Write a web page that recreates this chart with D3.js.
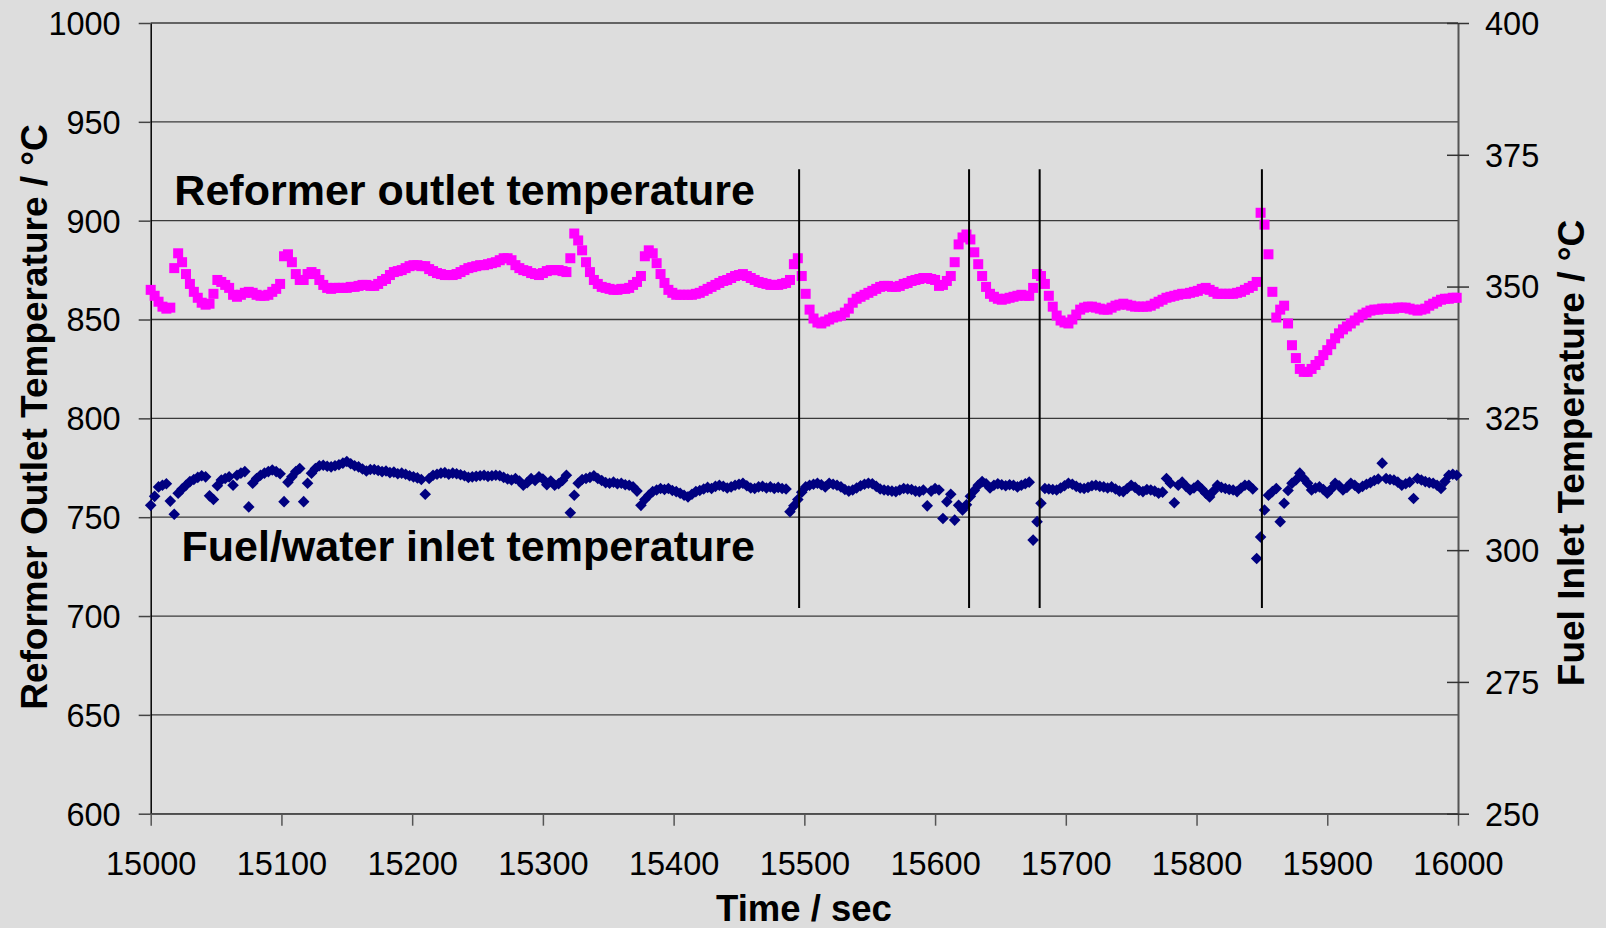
<!DOCTYPE html>
<html>
<head>
<meta charset="utf-8">
<script src="https://cdn.jsdelivr.net/npm/d3@7"></script>
<style>
  body { margin: 0; background: #dddddd; }
  svg { display: block; font-family: "Liberation Sans", Arial, sans-serif; }
</style>
</head>
<body>
<div id="chart"></div>
<script>
// Logged samples, one every 3 s starting at 15000 s
var sampleStart = 15000;
var sampleStep = 3;

// Reformer outlet temperature (left axis, °C)
var outletTemp = [
  865, 862, 859, 856.5, 855.5, 856, 876, 883.5, 879, 873,
  868, 864, 861, 858.5, 857.5, 858, 863, 870, 869, 867.5,
  866, 862.5, 861.5, 862.5, 863.5, 864, 863.5, 862.5, 862, 862,
  862.5, 864, 865.5, 868, 882, 883, 879, 873, 870, 870,
  873, 874, 873, 870, 867.5, 866, 865.5, 866, 866, 866,
  866, 866.5, 866.5, 867, 867.5, 867.5, 867, 867, 868, 869.5,
  870.5, 872.5, 874, 874.5, 875, 876, 877, 877.5, 877.5, 877,
  877, 875.5, 874.5, 873.5, 873, 872.5, 872.5, 872.5, 873, 874,
  875, 876, 876.5, 877, 877.5, 877.5, 878, 878.5, 879, 880,
  881, 881, 880, 877.5, 876, 875, 874.5, 873.5, 873, 872.5,
  873.5, 874.5, 875, 875, 875, 874.5, 874, 881, 893.5, 890,
  885, 879, 874, 870, 868, 866.5, 866, 865.5, 865, 865,
  865.5, 865.5, 866, 867.5, 869, 872, 882, 885, 883.5, 878.5,
  873, 868.5, 865, 863.5, 862.5, 862.5, 862.5, 862.5, 862.5, 863,
  863.5, 864.5, 865.5, 866.5, 867.5, 868.5, 869.5, 870, 871, 872,
  872.5, 873, 872, 871, 870, 869, 868.5, 868, 867.5, 867.5,
  867.5, 868, 868.5, 870, 878, 881, 872, 863, 855, 850.5,
  848.5, 848, 849, 850, 851, 851.5, 852, 853.5, 855.5, 858.5,
  860.5, 861.5, 862.5, 863.5, 864.5, 865.5, 866.5, 867, 867, 866.5,
  866.5, 867, 868, 868.5, 869.5, 870, 870.5, 871, 871, 870.5,
  870, 867, 867.5, 869.5, 872, 879, 888, 891.5, 893, 890.5,
  884, 878, 872, 866.5, 863, 861.5, 860.5, 860, 860.5, 861,
  861.5, 862, 862.5, 862, 862, 866, 873, 872, 868, 862,
  856.5, 852, 849.5, 848.5, 848, 850, 852.5, 855, 856, 856.5,
  856.5, 856, 855.5, 855, 855, 856, 857, 857.5, 858, 857.5,
  857, 856.5, 856.5, 856.5, 856.5, 857, 858, 859, 860, 861,
  861.5, 862, 862.5, 863, 863, 863.5, 864, 864.5, 865.5, 866,
  865, 864, 863, 863, 863, 863, 863, 863.5, 864, 865,
  866, 867, 869, 904, 898, 883, 864, 851, 855, 857,
  848, 837, 830.5, 825, 823.5, 823.5, 825, 827, 829, 832,
  834.5, 837.5, 840.5, 843, 845, 846.5, 848, 849.5, 851, 852.5,
  853.5, 854.5, 855, 855, 855.5, 855.5, 855.5, 855.5, 856, 856,
  856, 855.5, 855, 854.5, 855, 855.5, 857, 858, 859, 860,
  860.5, 860.5, 861, 861
];

// Fuel/water inlet temperature (right axis, °C)
var inletTemp = [
  308.5, 310.2, 312, 312.3, 312.6, 309.3, 306.8, 310.8, 311.6, 312.3,
  313, 313.4, 313.8, 314.1, 313.9, 310.3, 309.6, 312.2, 313.3, 313.6,
  313.9, 312.3, 314.2, 314.6, 314.9, 308.2, 312.7, 313.6, 314.2, 314.6,
  314.9, 315.2, 314.9, 314.5, 309.2, 312.9, 313.9, 314.9, 315.5, 309.2,
  312.7, 314.6, 315.5, 316, 316.1, 315.9, 315.8, 316, 316.2, 316.5,
  316.8, 316.4, 316, 315.8, 315.4, 315, 315.3, 315.3, 315.1, 314.9,
  315, 314.7, 314.8, 314.5, 314.6, 314.4, 314.1, 313.9, 313.7, 313.4,
  310.6, 313.6, 314.2, 314.4, 314.6, 314.7, 314.4, 314.6, 314.5, 314.3,
  314.1, 313.8, 313.9, 314, 314.1, 314.2, 314, 314.1, 314.2, 314.1,
  313.8, 313.5, 313.3, 313.6, 313.1, 312.3, 312.8, 313.6, 313.2, 313.9,
  313.5, 312.4, 313.1, 312.3, 312.6, 313.2, 314.2, 307.1, 310.4, 312.7,
  313.4, 313.6, 313.8, 314.1, 313.6, 313.2, 312.8, 312.7, 312.9, 312.6,
  312.7, 312.4, 312.3, 312, 311.2, 308.5, 309.6, 310.4, 311.1, 311.4,
  311.7, 311.5, 311.7, 311.3, 311.1, 310.8, 310.4, 310.1, 310.6, 311.1,
  311.3, 311.6, 311.9, 311.7, 312.1, 312.3, 312.1, 311.8, 312, 312.3,
  312.5, 312.7, 312.2, 311.8, 311.7, 312, 312.1, 311.8, 312, 311.7,
  311.9, 311.7, 311.6, 307.3, 308.4, 309.6, 311, 312, 312.3, 312.5,
  312.7, 312.4, 312, 312.7, 312.5, 312.3, 312, 311.5, 311.2, 311.4,
  311.8, 312.2, 312.5, 312.7, 312.6, 312.1, 311.6, 311.4, 311.3, 311.2,
  311.1, 311.4, 311.7, 311.6, 311.5, 311.2, 311.1, 311.4, 308.4, 311.2,
  311.7, 311.4, 306, 309.2, 310.6, 305.7, 308.5, 307.6, 308.6, 310.2,
  311.3, 312.3, 313, 312.6, 311.8, 312.3, 312.6, 312.4, 312.2, 312.4,
  312.3, 312, 312.3, 312.6, 312.9, 301.9, 305.4, 308.9, 311.7, 311.6,
  311.5, 311.4, 311.8, 312.2, 312.7, 312.5, 312.1, 311.8, 311.7, 311.9,
  312.2, 312.3, 312.1, 312, 311.8, 312, 311.6, 311.2, 311.1, 311.7,
  312.3, 311.9, 311.3, 311.1, 311.5, 311.4, 311.2, 310.8, 311, 313.6,
  312.7, 309, 312.3, 312.9, 312.1, 311.4, 311.8, 312.3, 311.6, 310.8,
  310.1, 311.2, 312.3, 311.9, 311.7, 311.5, 311.4, 311.1, 311.8, 312.3,
  312.3, 311.6, 298.4, 302.5, 307.6, 310.4, 311.1, 311.7, 305.4, 308.9,
  311.3, 312.7, 313.3, 314.6, 313.6, 312.7, 311.4, 311.8, 312, 311.5,
  310.8, 311.6, 312.7, 312.2, 311.4, 311.9, 312.7, 312.3, 311.7, 312.1,
  312.5, 312.8, 313.2, 313.5, 316.5, 313.6, 313.4, 313.3, 312.9, 312.3,
  312.6, 312.9, 309.8, 313.6, 313.3, 313, 312.8, 312.7, 312.3, 311.7,
  313, 314.2, 314.4, 314.2
];

// Event markers (s) and their vertical extent on the left axis
var eventTimes = [15496, 15626, 15680, 15850];
var eventRange = [704, 926];

var xTicks = [15000, 15100, 15200, 15300, 15400, 15500, 15600, 15700, 15800, 15900, 16000];
var leftTicks = [600, 650, 700, 750, 800, 850, 900, 950, 1000];
var rightTicks = [250, 275, 300, 325, 350, 375, 400];

var width = 1606, height = 928;
var plot = {left: 150.7, right: 1458, top: 23, bottom: 813.7};

var svg = d3.select('#chart').append('svg')
  .attr('width', width)
  .attr('height', height);

svg.append('rect')
  .attr('width', width)
  .attr('height', height)
  .attr('fill', '#dddddd');

var x = d3.scaleLinear().domain([15000, 16000]).range([plot.left, plot.right]);
var yL = d3.scaleLinear().domain([600, 1000]).range([plot.bottom, plot.top]);
var yR = d3.scaleLinear().domain([250, 400]).range([plot.bottom, plot.top]);

function sampleTime(i) { return sampleStart + i * sampleStep; }

// horizontal grid
svg.append('g').selectAll('line')
  .data(leftTicks)
  .enter().append('line')
  .attr('x1', plot.left).attr('x2', plot.right)
  .attr('y1', function(d) { return yL(d); })
  .attr('y2', function(d) { return yL(d); })
  .attr('stroke', '#3a3a3a')
  .attr('stroke-width', 1.3);

// left axis
var gLeft = svg.append('g')
  .attr('transform', 'translate(' + plot.left + ',0)')
  .call(d3.axisLeft(yL).tickValues(leftTicks).tickSize(12).tickSizeOuter(0).tickFormat(d3.format('d')));
gLeft.select('.domain').attr('stroke', '#000').attr('stroke-width', 1.5);
gLeft.selectAll('.tick line').attr('stroke', '#444').attr('stroke-width', 1.5);
gLeft.selectAll('.tick text')
  .attr('x', -30).attr('dy', '0.35em')
  .style('font-size', '32.5px').attr('fill', '#000');

// bottom axis
var gBottom = svg.append('g')
  .attr('transform', 'translate(0,' + plot.bottom + ')')
  .call(d3.axisBottom(x).tickValues(xTicks).tickSize(12).tickSizeOuter(0).tickFormat(d3.format('d')));
gBottom.select('.domain').attr('stroke', '#555').attr('stroke-width', 1.8);
gBottom.selectAll('.tick line').attr('stroke', '#555').attr('stroke-width', 1.5);
gBottom.selectAll('.tick text')
  .attr('y', 61).attr('dy', 0)
  .style('font-size', '32.5px').attr('fill', '#000');

// right axis with crossing ticks
var gRight = svg.append('g')
  .attr('transform', 'translate(' + plot.right + ',0)')
  .call(d3.axisRight(yR).tickValues(rightTicks).tickSize(11).tickSizeOuter(0));
gRight.select('.domain').attr('stroke', '#555').attr('stroke-width', 2);
gRight.selectAll('.tick line').attr('x1', -11).attr('x2', 11)
  .attr('stroke', '#333').attr('stroke-width', 1.5);
gRight.selectAll('.tick text')
  .attr('x', 27).attr('dy', '0.35em')
  .style('font-size', '32.5px').attr('fill', '#000');

// reformer outlet: magenta squares
svg.append('g').selectAll('rect')
  .data(outletTemp)
  .enter().append('rect')
  .attr('x', function(d, i) { return x(sampleTime(i)) - 5; })
  .attr('y', function(d) { return yL(d) - 5; })
  .attr('width', 10).attr('height', 10)
  .attr('fill', '#ff00ff');

// fuel inlet: navy diamonds
var diamond = 'M0,-5.8L5.8,0L0,5.8L-5.8,0Z';
svg.append('g').selectAll('path')
  .data(inletTemp)
  .enter().append('path')
  .attr('d', diamond)
  .attr('transform', function(d, i) {
    return 'translate(' + x(sampleTime(i)) + ',' + yR(d) + ')';
  })
  .attr('fill', '#000080');

// event lines
svg.append('g').selectAll('line')
  .data(eventTimes)
  .enter().append('line')
  .attr('x1', function(d) { return x(d); })
  .attr('x2', function(d) { return x(d); })
  .attr('y1', yL(eventRange[1]))
  .attr('y2', yL(eventRange[0]))
  .attr('stroke', '#000')
  .attr('stroke-width', 2);

// annotations
svg.append('text')
  .attr('x', 755).attr('y', 205)
  .attr('text-anchor', 'end')
  .style('font-size', '43px').style('font-weight', 'bold')
  .text('Reformer outlet temperature');
svg.append('text')
  .attr('x', 755).attr('y', 561)
  .attr('text-anchor', 'end')
  .style('font-size', '43px').style('font-weight', 'bold')
  .text('Fuel/water inlet temperature');

// axis titles
svg.append('text')
  .attr('transform', 'translate(47,417) rotate(-90)')
  .attr('text-anchor', 'middle')
  .style('font-size', '37px').style('font-weight', 'bold')
  .text('Reformer Outlet Temperature / °C');
svg.append('text')
  .attr('transform', 'translate(1584,453) rotate(-90)')
  .attr('text-anchor', 'middle')
  .style('font-size', '37px').style('font-weight', 'bold')
  .text('Fuel Inlet Temperature / °C');
svg.append('text')
  .attr('x', 804).attr('y', 921)
  .attr('text-anchor', 'middle')
  .style('font-size', '36.5px').style('font-weight', 'bold')
  .text('Time / sec');
</script>
</body>
</html>
